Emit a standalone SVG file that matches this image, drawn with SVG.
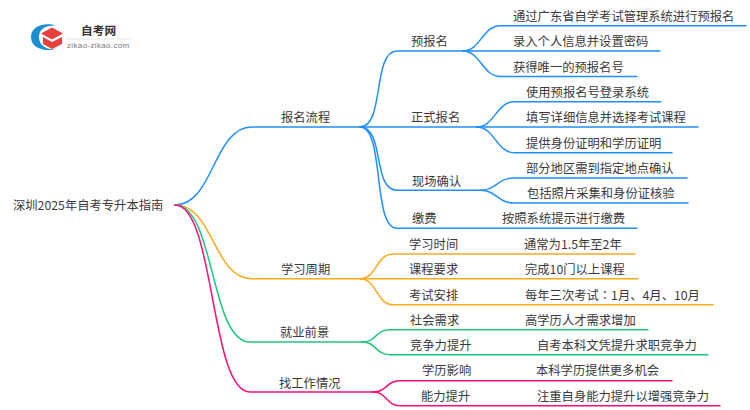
<svg xmlns="http://www.w3.org/2000/svg" width="750" height="410" viewBox="0 0 750 410">
<style>
text{font-family:"Noto Sans CJK SC","Noto Sans",sans-serif;font-size:12.300px;fill:#3a3a3a}
.c path{fill:none;stroke-width:1.5;stroke-linecap:round}
.b path{stroke:#1e90ff}.o path{stroke:#f9ab1c}.g path{stroke:#1fc77f}.p path{stroke:#ff0f7b}
</style>
<rect width="750" height="410" fill="#fff"/>
<g id="logo">
<path d="M56 25.500C46 22 31 25 31 37C31 49 46 52 56 49C47 50 39 46 39 37C39 28 47 25 56 25.500Z" fill="#1c8fd0"/>
<path d="M41 33.500L52 27.500L63 33.500L52 39.500Z" fill="#e8413c"/>
<path d="M43 37L52 42L62 37V44L52 49L43 44Z" fill="#e8413c"/>
<path d="M66 39H131" stroke="#e6e6e6" stroke-width="1"/>
<text x="81" y="35" style="font-size:11.700px;font-weight:700;fill:#333">自考网</text>
<text x="67" y="48" style="font-family:'Liberation Sans',sans-serif;font-size:8px;fill:#777;letter-spacing:.35px">zikao-zikao.com</text>
</g>
<g id="connectors" class="c">
<g class="b">
<path d="M175 205C214 205 213 127 252 127H360"/>
<path d="M360 127C385 127 372 51 397 51H463"/>
<path d="M463 51C480 51 483 25.700 500 25.700H746"/>
<path d="M463 51H660"/>
<path d="M463 51C480 51 483 76.500 500 76.500H637"/>
<path d="M360 127H477"/>
<path d="M477 127C494 127 497 101.700 514 101.700H661"/>
<path d="M477 127H698"/>
<path d="M477 127C494 127 497 152.700 514 152.700H672"/>
<path d="M360 127C385 127 372 190.300 397 190.300H480"/>
<path d="M480 190.300C497 190.300 497 178 514 178H687"/>
<path d="M480 190.300C497 190.300 497 203 514 203H688"/>
<path d="M360 127C385 127 372 228.300 397 228.300H637"/>
</g>
<g class="o">
<path d="M175 205C214 205 213 278.700 252 278.700H360"/>
<path d="M360 278.700C377 278.700 376 254 393 254H635"/>
<path d="M360 278.700H638"/>
<path d="M360 278.700C377 278.700 376 304.700 393 304.700H713"/>
</g>
<g class="g">
<path d="M175 205C215 205 210 342 250 342H362"/>
<path d="M362 342C377 342 375 329.700 390 329.700H648"/>
<path d="M362 342C377 342 375 354.700 390 354.700H708"/>
</g>
<g class="p">
<path d="M175 205C215 205 210 392 250 392H373"/>
<path d="M373 392C387 392 386 380.700 400 380.700H672"/>
<path d="M373 392C387 392 386 405.700 400 405.700H720"/>
</g>
</g>
<g id="root"><text x="13" y="210">深圳2025年自考专升本指南</text></g>
<g id="n1"><text x="281" y="122">报名流程</text></g>
<g id="n2"><text x="411" y="46">预报名</text></g>
<g id="n3"><text x="513" y="21">通过广东省自学考试管理系统进行预报名</text></g>
<g id="n4"><text x="513" y="46">录入个人信息并设置密码</text></g>
<g id="n5"><text x="513" y="72">获得唯一的预报名号</text></g>
<g id="n6"><text x="411" y="122">正式报名</text></g>
<g id="n7"><text x="526" y="97">使用预报名号登录系统</text></g>
<g id="n8"><text x="526" y="122">填写详细信息并选择考试课程</text></g>
<g id="n9"><text x="526" y="148">提供身份证明和学历证明</text></g>
<g id="n10"><text x="412" y="186">现场确认</text></g>
<g id="n11"><text x="526" y="173">部分地区需到指定地点确认</text></g>
<g id="n12"><text x="527" y="198">包括照片采集和身份证核验</text></g>
<g id="n13"><text x="412" y="223">缴费</text></g>
<g id="n14"><text x="502" y="223">按照系统提示进行缴费</text></g>
<g id="n15"><text x="281" y="274">学习周期</text></g>
<g id="n16"><text x="409" y="249">学习时间</text></g>
<g id="n17"><text x="524" y="249">通常为1.5年至2年</text></g>
<g id="n18"><text x="409" y="274">课程要求</text></g>
<g id="n19"><text x="525" y="274">完成10门以上课程</text></g>
<g id="n20"><text x="409" y="300">考试安排</text></g>
<g id="n21"><text x="525" y="300">每年三次考试<tspan style="font-family:'Noto Sans CJK TC',sans-serif">：</tspan>1月、4月、10月</text></g>
<g id="n22"><text x="280" y="337">就业前景</text></g>
<g id="n23"><text x="410" y="325">社会需求</text></g>
<g id="n24"><text x="525" y="325">高学历人才需求增加</text></g>
<g id="n25"><text x="410" y="350">竞争力提升</text></g>
<g id="n26"><text x="537" y="350">自考本科文凭提升求职竞争力</text></g>
<g id="n27"><text x="279" y="388">找工作情况</text></g>
<g id="n28"><text x="422" y="375">学历影响</text></g>
<g id="n29"><text x="536" y="375">本科学历提供更多机会</text></g>
<g id="n30"><text x="421" y="401">能力提升</text></g>
<g id="n31"><text x="537" y="401">注重自身能力提升以增强竞争力</text></g>
</svg>
